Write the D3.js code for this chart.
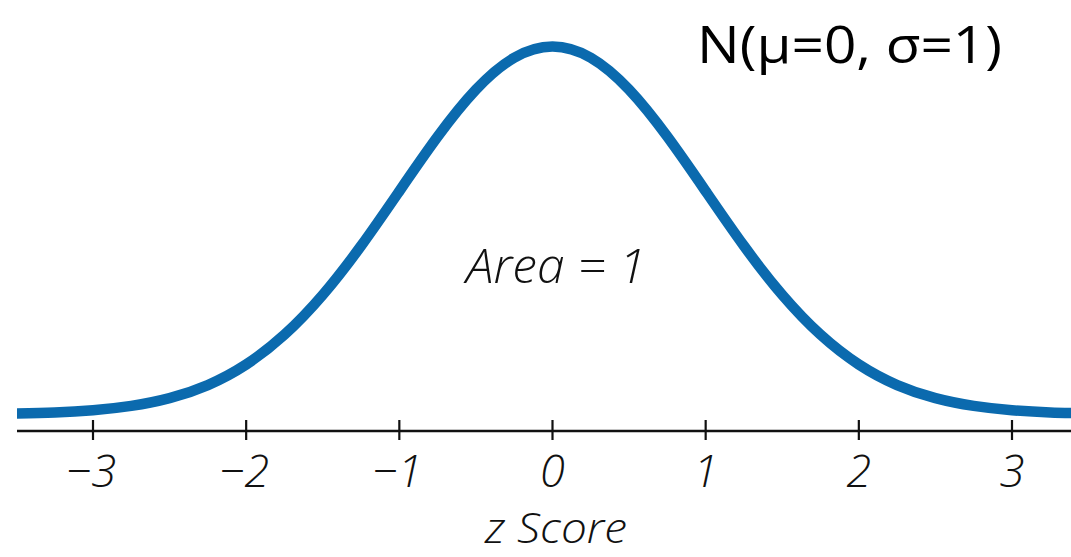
<!DOCTYPE html>
<html>
<head>
<meta charset="utf-8">
<script src="https://cdn.jsdelivr.net/npm/d3@7"></script>
<style>
  html, body { margin: 0; padding: 0; background: #ffffff; }
  svg { display: block; }
</style>
</head>
<body>
<svg id="chart" width="1071" height="557"></svg>
<script>
// Standard normal density, sampled every quarter unit of z
const zValues = [-3.5, -3.25, -3, -2.75, -2.5, -2.25, -2, -1.75, -1.5, -1.25, -1, -0.75, -0.5, -0.25,
                 0, 0.25, 0.5, 0.75, 1, 1.25, 1.5, 1.75, 2, 2.25, 2.5, 2.75, 3, 3.25, 3.5];
const density = [0.0009, 0.0020, 0.0044, 0.0091, 0.0175, 0.0317, 0.0540, 0.0863, 0.1295, 0.1826, 0.2420, 0.3011, 0.3521, 0.3867,
                 0.3989, 0.3867, 0.3521, 0.3011, 0.2420, 0.1826, 0.1295, 0.0863, 0.0540, 0.0317, 0.0175, 0.0091, 0.0044, 0.0020, 0.0009];
const tickValues = [-3, -2, -1, 0, 1, 2, 3];
const tickLabels = ["\u22123", "\u22122", "\u22121", "0", "1", "2", "3"];
const title = "N(\u03bc=0, \u03c3=1)";
const areaLabel = "Area = 1";
const axisTitle = "z Score";

const svg = d3.select("#chart");
const W = 1071, H = 557;

const x = d3.scaleLinear().domain([-3, 3]).range([93, 1012]);
const y = d3.scaleLinear().domain([0, 0.3989]).range([414.3, 46.5]);

const handFont = "'Open Sans', 'DejaVu Sans', sans-serif";

// baseline axis
const axisY = 431;
svg.append("line")
  .attr("x1", 17).attr("x2", W)
  .attr("y1", axisY).attr("y2", axisY)
  .attr("stroke", "#111").attr("stroke-width", 2.6);

svg.selectAll("line.tick")
  .data(tickValues)
  .join("line")
  .attr("class", "tick")
  .attr("x1", d => x(d)).attr("x2", d => x(d))
  .attr("y1", axisY - 11).attr("y2", axisY + 9)
  .attr("stroke", "#111").attr("stroke-width", 2.2);

svg.selectAll("text.ticklabel")
  .data(tickValues)
  .join("text")
  .attr("class", "ticklabel")
  .attr("x", d => x(d) + (d < 0 ? -2 : 0))
  .attr("y", 487)
  .attr("text-anchor", "middle")
  .attr("font-family", handFont)
  .attr("font-style", "italic")
  .attr("font-weight", 300)
  .attr("font-size", 45)
  .attr("fill", "#111")
  .text((d, i) => tickLabels[i]);

// density curve
const clip = svg.append("defs").append("clipPath").attr("id", "plotclip");
clip.append("rect").attr("x", 17).attr("y", 0).attr("width", W - 17).attr("height", H);

const line = d3.line()
  .x((d, i) => x(zValues[i]))
  .y(d => y(d))
  .curve(d3.curveNatural);

svg.append("path")
  .datum(density)
  .attr("clip-path", "url(#plotclip)")
  .attr("d", line)
  .attr("fill", "none")
  .attr("stroke", "#0b6aae")
  .attr("stroke-width", 10.5)
  .attr("stroke-linecap", "butt");

// labels
svg.append("text")
  .attr("x", 556).attr("y", 283)
  .attr("text-anchor", "middle")
  .attr("font-family", handFont)
  .attr("font-style", "italic")
  .attr("font-weight", 300)
  .attr("font-size", 47)
  .attr("textLength", 180)
  .attr("lengthAdjust", "spacingAndGlyphs")
  .attr("fill", "#111")
  .text(areaLabel);

svg.append("text")
  .attr("x", 556).attr("y", 543)
  .attr("text-anchor", "middle")
  .attr("font-family", handFont)
  .attr("font-style", "italic")
  .attr("font-weight", 300)
  .attr("font-size", 42)
  .attr("textLength", 142)
  .attr("lengthAdjust", "spacingAndGlyphs")
  .attr("fill", "#111")
  .text(axisTitle);

svg.append("text")
  .attr("x", 697).attr("y", 63)
  .attr("font-family", "'Open Sans', 'Noto Sans', sans-serif")
  .attr("font-size", 52)
  .attr("textLength", 305)
  .attr("lengthAdjust", "spacingAndGlyphs")
  .attr("fill", "#000")
  .text(title);
</script>
</body>
</html>
